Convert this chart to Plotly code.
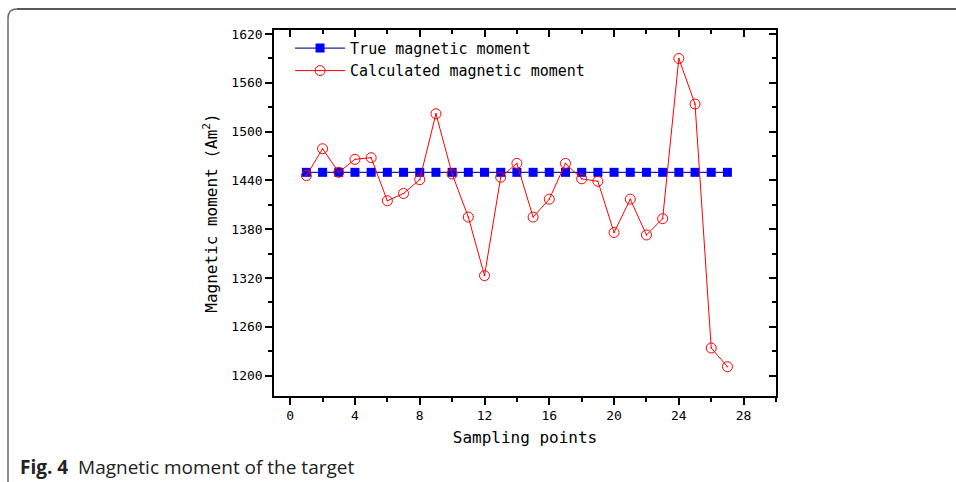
import plotly.graph_objects as go

x_points = list(range(1, 28))
true_moment = [1450] * 27
calc_moment = [1446, 1479, 1450, 1466, 1468, 1415, 1424, 1441, 1522, 1448,
               1395, 1323, 1444, 1461, 1395, 1417, 1461, 1442, 1439, 1376,
               1417, 1373, 1393, 1590, 1534, 1234, 1211]
x_ticks = [0, 4, 8, 12, 16, 20, 24, 28]
y_ticks = [1200, 1260, 1320, 1380, 1440, 1500, 1560, 1620]

L, R, T, B = 274, 180, 30, 86
W, H = 956, 482
pw, ph = W - L - R, H - T - B

def px(x):
    return (x - L) / pw

def py(y):
    return (H - B - y) / ph

fig = go.Figure()
fig.add_trace(go.Scatter(
    x=x_points, y=true_moment, mode="lines+markers", name="True magnetic moment",
    line=dict(color="#2020a0", width=1.2),
    marker=dict(symbol="square", size=9, color="#0000ff"),
))
fig.add_trace(go.Scatter(
    x=x_points, y=calc_moment, mode="lines+markers", name="Calculated magnetic moment",
    line=dict(color="#ff0000", width=1),
    marker=dict(symbol="circle-open-dot", size=10, color="#ff0000", line=dict(width=1)),
))

mono = "DejaVu Sans Mono"
common = dict(showline=True, linecolor="black", linewidth=1.5, showgrid=False, zeroline=False)

fig.update_layout(
    width=W, height=H, margin=dict(l=L, r=R, t=T, b=B),
    paper_bgcolor="white", plot_bgcolor="white",
    showlegend=True,
    legend=dict(x=0.032, y=0.995, xanchor="left", yanchor="top", bgcolor="rgba(0,0,0,0)",
                font=dict(family=mono, size=15, color="black"), tracegroupgap=0,
                itemwidth=50),
    xaxis=dict(range=[-1, 30], tickvals=x_ticks, ticks="outside", ticklen=7, tickwidth=1.5,
               tickcolor="black", tickfont=dict(family=mono, size=13, color="black"),
               minor=dict(dtick=2, tick0=0, ticks="outside", ticklen=4, tickcolor="black", tickwidth=1.5),
               title=dict(text="Sampling points", font=dict(family=mono, size=16, color="black"), standoff=9),
               **common),
    yaxis=dict(range=[1175, 1625], tickvals=y_ticks, ticks="outside", ticklen=7, tickwidth=1.5,
               tickcolor="black", tickfont=dict(family=mono, size=13, color="black"),
               minor=dict(dtick=30, tick0=1200, ticks="outside", ticklen=4, tickcolor="black", tickwidth=1.5),
               title=dict(text="Magnetic moment (Am<sup>2</sup>)", font=dict(family=mono, size=16, color="black"), standoff=10),
               **common),
    xaxis2=dict(range=[-1, 30], overlaying="x", side="top", tickvals=x_ticks, ticks="inside",
                ticklen=7, tickwidth=1.5, tickcolor="black", showticklabels=False,
                minor=dict(dtick=2, tick0=0, ticks="inside", ticklen=4, tickcolor="black", tickwidth=1.5),
                **common),
    yaxis2=dict(range=[1175, 1625], overlaying="y", side="right", tickvals=y_ticks, ticks="inside",
                ticklen=7, tickwidth=1.5, tickcolor="black", showticklabels=False,
                minor=dict(dtick=30, tick0=1200, ticks="inside", ticklen=4, tickcolor="black", tickwidth=1.5),
                **common),
)
# invisible trace to activate the mirrored axes
fig.add_trace(go.Scatter(x=[None], y=[None], xaxis="x2", yaxis="y2", showlegend=False, hoverinfo="skip"))

# frame of the figure panel (rounded top-left corner)
r = 9
left_path = (f"M {px(8)},{py(H + 5)} L {px(8)},{py(9 + r)} "
             f"Q {px(8)},{py(9)} {px(8 + r)},{py(9)}")
top_path = f"M {px(8 + r)},{py(9)} L {px(W + 5)},{py(9)}"
fig.add_shape(type="path", path=left_path, xref="paper", yref="paper",
              line=dict(color="#6a6a6a", width=1.5))
fig.add_shape(type="path", path=top_path, xref="paper", yref="paper",
              line=dict(color="#222222", width=1.5))

fig.add_annotation(
    x=px(18), y=py(467), xref="paper", yref="paper", xanchor="left", yanchor="middle",
    text="<b>Fig. 4</b>  Magnetic moment of the target", showarrow=False,
    font=dict(family="Open Sans", size=19, color="#222222"),
)

fig.write_html("out.html")
